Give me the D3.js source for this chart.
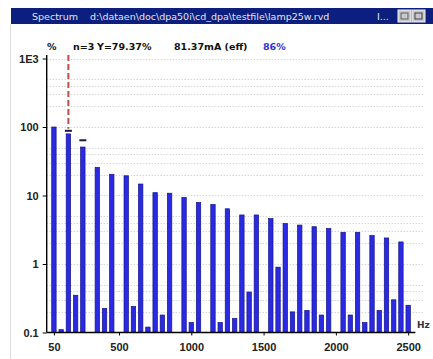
<!DOCTYPE html>
<html>
<head>
<meta charset="utf-8">
<script src="https://cdn.jsdelivr.net/npm/d3@7"></script>
<style>
  body { margin: 0; background: #fff; }
  svg { display: block; font-family: "DejaVu Sans", sans-serif; }
</style>
</head>
<body>
<script>
// chart data
const oddFreqs = [50, 150, 250, 350, 450, 550, 650, 750, 850, 950, 1050, 1150, 1250,
    1350, 1450, 1550, 1650, 1750, 1850, 1950, 2050, 2150, 2250, 2350, 2450];
const oddValues = [100, 79.37, 51, 25.8, 20.4, 19.4, 14.7, 11.0, 10.8, 9.4, 7.9, 7.4, 6.4,
    5.2, 5.2, 4.6, 3.9, 3.7, 3.5, 3.3, 2.9, 2.9, 2.6, 2.4, 2.1];
const evenFreqs = [100, 200, 300, 400, 500, 600, 700, 800, 900, 1000, 1100, 1200, 1300,
    1400, 1500, 1600, 1700, 1800, 1900, 2000, 2100, 2200, 2300, 2400, 2500];
const evenValues = [0.11, 0.35, 0.1, 0.225, 0.1, 0.24, 0.12, 0.18, 0.1, 0.14, 0.1, 0.14, 0.16,
    0.39, 0.1, 0.9, 0.2, 0.21, 0.18, 0.1, 0.18, 0.14, 0.21, 0.30, 0.25];
const peakFreqs = [150, 250];
const peakValues = [88, 64];
const cursorFreq = 150;

const xTicks = [50, 500, 1000, 1500, 2000, 2500];
const yTicks = [1000, 100, 10, 1, 0.1];
const yTickLabels = ["1E3", "100", "10", "1", "0.1"];
const gridMults = [1, 2, 3, 4, 5];

const titleText = "Spectrum";
const fileText = "d:\\dataen\\doc\\dpa50i\\cd_dpa\\testfile\\lamp25w.rvd";
const headerParts = [["%", 47], ["n=3", 73], ["Y=79.37%", 97], ["81.37mA (eff)", 174]];
const headerBlue = "86%";

// sizes
const width = 433, height = 359;

const svg = d3.select('body').append('svg')
    .attr('width', width)
    .attr('height', height);

// scales
const x = d3.scaleLinear().domain([0, 2550]).range([46.7, 415.4]);
const y = d3.scaleLog().domain([0.1, 1000]).range([332.5, 58.5]);

// window frame line on the left
svg.append('line')
    .attr('x1', 10.5).attr('x2', 10.5).attr('y1', 24).attr('y2', height)
    .attr('stroke', '#dcdcdc');

// title bar
svg.append('rect')
    .attr('x', 11).attr('y', 8).attr('width', width - 11).attr('height', 16)
    .attr('fill', '#0c1f7e');
svg.append('text').attr('x', 32).attr('y', 19.5)
    .attr('fill', '#e4e4ee').attr('font-size', 9.5).text(titleText);
svg.append('text').attr('x', 90).attr('y', 19.5)
    .attr('fill', '#e4e4ee').attr('font-size', 9.5).text(fileText);
svg.append('text').attr('x', 377).attr('y', 19.5)
    .attr('fill', '#e4e4ee').attr('font-size', 9.5).text("I...");
// title bar buttons
[398, 412].forEach((bx, i) => {
    svg.append('rect').attr('x', bx).attr('y', 10).attr('width', 13).attr('height', 12)
        .attr('fill', '#c8c8cc').attr('stroke', '#f0f0f0');
    svg.append('rect').attr('x', bx + 3).attr('y', 13).attr('width', 7).attr('height', 6)
        .attr('fill', 'none').attr('stroke', i ? '#404040' : '#606060');
});

// horizontal grid lines (dotted)
const gridVals = [];
[0.1, 1, 10, 100].forEach(dec => gridMults.forEach(m => gridVals.push(dec * m)));
gridVals.push(1000);
svg.append('g').selectAll('line').data(gridVals.filter(v => v > 0.1)).enter().append('line')
    .attr('x1', x(0)).attr('x2', 423)
    .attr('y1', d => Math.round(y(d)) + 0.5).attr('y2', d => Math.round(y(d)) + 0.5)
    .attr('stroke', '#c4c4c4')
    .attr('stroke-dasharray', '1,2');

// cursor line
svg.append('line')
    .attr('x1', x(cursorFreq)).attr('x2', x(cursorFreq))
    .attr('y1', 55).attr('y2', y(peakValues[0]) - 2)
    .attr('stroke', '#b8504a').attr('stroke-width', 2)
    .attr('stroke-dasharray', '6,3');

// bars
const bars = oddFreqs.map((f, i) => ({ f: f, v: oddValues[i] }))
    .concat(evenFreqs.map((f, i) => ({ f: f, v: evenValues[i] })));

svg.append('g').selectAll('rect').data(bars).enter().append('rect')
    .attr('x', d => x(d.f) - 2.2)
    .attr('width', 4.4)
    .attr('y', d => y(d.v))
    .attr('height', d => y(0.1) - y(d.v))
    .attr('fill', '#2a2ae2')
    .attr('stroke', '#14148c')
    .attr('stroke-width', 0.7);

// peak markers
svg.append('g').selectAll('line').data(peakFreqs).enter().append('line')
    .attr('x1', d => x(d) - 3.5).attr('x2', d => x(d) + 3.5)
    .attr('y1', (d, i) => y(peakValues[i])).attr('y2', (d, i) => y(peakValues[i]))
    .attr('stroke', '#1a1a40').attr('stroke-width', 2);

// y axis
const yAxis = d3.axisLeft(y).tickValues(yTicks).tickSize(4)
    .tickFormat((d, i) => yTickLabels[i]);
const yg = svg.append('g').attr('transform', `translate(${x(0)},0)`).call(yAxis);
yg.select('.domain').attr('d', `M0,55V${y(0.1)}`).attr('stroke', '#000').attr('stroke-width', 1.4);
yg.selectAll('text').attr('font-size', 11).attr('font-weight', 'bold').attr('fill', '#222')
    .attr('dx', -1);

// x axis
const xAxis = d3.axisBottom(x).tickValues(xTicks).tickSize(3).tickFormat(d => d);
const xg = svg.append('g').attr('transform', `translate(0,${y(0.1)})`).call(xAxis);
xg.select('.domain').attr('d', `M${x(0)},0H${x(2550)}`).attr('stroke', '#000').attr('stroke-width', 1.6);
xg.selectAll('text').attr('font-size', 11).attr('font-weight', 'bold').attr('fill', '#222')
    .attr('y', 11).attr('dy', '0.71em');

// unit label
svg.append('text').attr('x', 417).attr('y', 328)
    .attr('font-size', 9).attr('font-weight', 'bold').attr('fill', '#333').text("Hz");

// header line with cursor readout
headerParts.forEach(p => {
    svg.append('text').attr('x', p[1]).attr('y', 50)
        .attr('font-size', 9.5).attr('font-weight', 'bold').attr('fill', '#111').text(p[0]);
});
svg.append('text').attr('x', 263).attr('y', 50)
    .attr('font-size', 9.5).attr('font-weight', 'bold').attr('fill', '#3030e0').text(headerBlue);
</script>
</body>
</html>
